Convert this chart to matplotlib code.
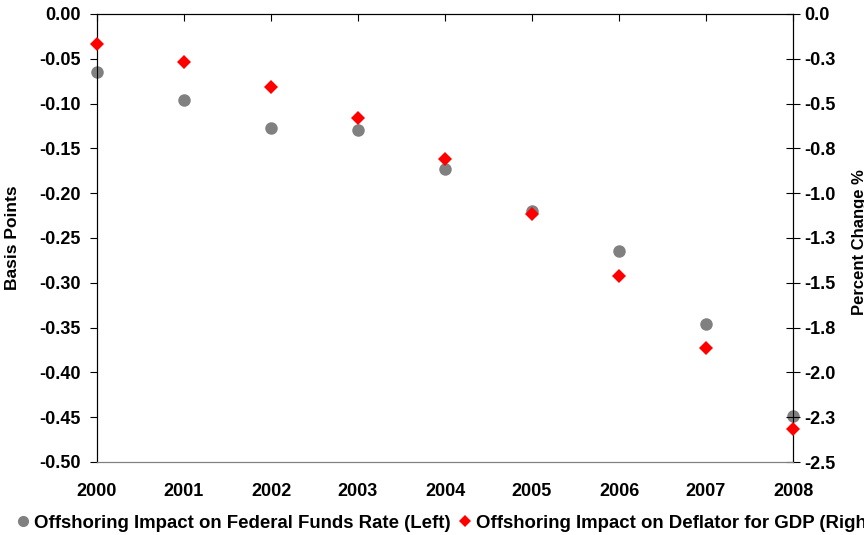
import math
import numpy as np
import matplotlib
matplotlib.use('Agg')
import matplotlib.pyplot as plt
from matplotlib.lines import Line2D
from matplotlib.ticker import FuncFormatter

plt.rcParams['font.family'] = ['Liberation Sans', 'DejaVu Sans']
plt.rcParams['font.weight'] = 'bold'

years = [2000, 2001, 2002, 2003, 2004, 2005, 2006, 2007, 2008]
fed_funds = [-0.065, -0.096, -0.127, -0.129, -0.173, -0.220, -0.264, -0.346, -0.449]
gdp_deflator = [-0.165, -0.268, -0.407, -0.580, -0.809, -1.116, -1.460, -1.864, -2.316]

label_left = 'Offshoring Impact on Federal Funds Rate (Left)'
label_right = 'Offshoring Impact on Deflator for GDP (Right)'

gray = '#808080'
red = '#FF0000'
fs = 13


def fmt_right(v, pos):
    # excel style rounding, half away from zero
    r = math.floor(abs(v) * 10 + 0.5) / 10
    if r == 0:
        return '0.0'
    return '-%.1f' % r if v < 0 else '%.1f' % r


fig = plt.figure(figsize=(8.64, 5.35), dpi=100)
ax = fig.add_axes([97/864, 1-462/535, 696/864, 448/535])
ax2 = ax.twinx()

ax.plot(years, fed_funds, 'o', color=gray, markersize=9, markeredgewidth=0, zorder=3, clip_on=False)
ax2.plot(years, gdp_deflator, 'D', color=red, markersize=7, markeredgewidth=0, zorder=3, clip_on=False)

ax.set_xlim(2000, 2008)
ax.set_ylim(-0.5, 0)
ax2.set_ylim(-2.5, 0)
ax.set_xticks(years)
ax.set_yticks(np.arange(0, -0.501, -0.05))
ax2.set_yticks(np.arange(0, -2.501, -0.25))
ax.yaxis.set_major_formatter(FuncFormatter(lambda v, p: '%.2f' % v if abs(v) > 1e-9 else '0.00'))
ax2.yaxis.set_major_formatter(FuncFormatter(fmt_right))

for a in (ax, ax2):
    a.spines['bottom'].set_color(gray)
    a.spines['top'].set_color('black')
    a.spines['left'].set_color('black')
    a.spines['right'].set_color('black')

ax.tick_params(axis='x', bottom=False, top=True, direction='in', length=5,
               labelbottom=True, labeltop=False, pad=15, labelsize=fs)
ax2.tick_params(axis='x', bottom=False, top=False)
ax.tick_params(axis='y', direction='out', length=5, pad=7, labelsize=fs)
ax2.tick_params(axis='y', direction='inout', length=10, pad=3, labelsize=fs)

for lab in ax.get_xticklabels() + ax.get_yticklabels() + ax2.get_yticklabels():
    lab.set_fontweight('bold')

ax.set_ylabel('Basis Points', fontsize=12.5, fontweight='bold')
ax.yaxis.set_label_coords((20-97)/696, 0.5)
ax2.set_ylabel('Percent Change %', fontsize=12, fontweight='bold', rotation=90)
ax2.yaxis.set_label_coords((852-97)/696, 0.49)

handles = [Line2D([], [], marker='o', color=gray, linestyle='none', markersize=8, markeredgewidth=0),
           Line2D([], [], marker='D', color=red, linestyle='none', markersize=6.5, markeredgewidth=0)]
fig.legend(handles, [label_left, label_right], loc='center left',
           bbox_to_anchor=(17/864, 1-523/535), ncol=2, frameon=False,
           handlelength=0.6, handletextpad=0.3, columnspacing=0.5,
           borderaxespad=0, borderpad=0, prop={'size': 13.4, 'weight': 'bold'})

fig.savefig('out.png', dpi=100)
